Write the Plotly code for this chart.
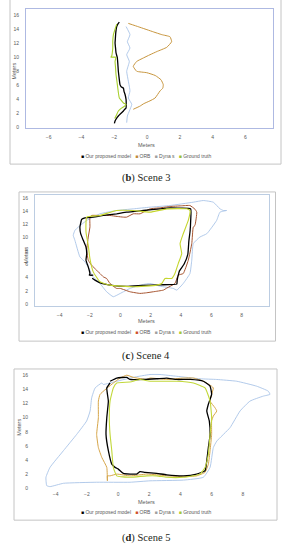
import plotly.graph_objects as go

W, H = 287, 550

# ---------------- data (Scene 3) ----------------
s3_model_x = [-1.69,-1.78,-1.85,-1.91,-1.93,-1.95,-1.92,-1.89,-1.81,-1.78,-1.75,-1.70,-1.65,-1.58,-1.44,-1.40,-1.34,-1.28,-1.27,-1.28,-1.36,-1.44,-1.60,-1.75,-1.88,-1.95,-1.99]
s3_model_y = [14.97,14.7,14.35,13.4,12.7,12.0,11.3,10.6,9.9,9.0,8.0,7.0,6.1,5.8,5.6,5.1,4.7,4.0,3.4,2.8,2.6,2.35,2.0,1.65,1.25,0.95,0.6]
s3_orb_x = [-1.14,-0.5,0.38,0.9,1.4,1.5,1.2,0.6,0.18,-0.3,-0.63,-0.84,-0.63,-0.02,0.5,0.85,0.99,0.96,0.79,0.49,0.18,-0.2,-0.43,-0.84]
s3_orb_y = [14.8,14.3,13.6,13.2,12.9,12.2,11.4,10.8,10.35,9.8,9.4,8.7,8.0,7.8,7.4,6.8,6.1,5.6,5.2,4.2,3.8,3.4,3.05,2.6]
s3_dyna_x = [-1.28,-1.04,-1.20,-1.04,-1.24,-1.08,-1.24,-1.14,-1.04,-1.14,-0.93,-1.08,-1.20,-1.24]
s3_dyna_y = [14.35,13.2,12.2,11.3,10.35,9.4,8.0,6.6,5.2,4.2,3.3,2.35,1.65,0.7]
s3_gt_x = [-1.85,-1.92,-2.05,-2.09,-2.09,-2.12,-2.15,-2.20,-1.90,-1.95,-1.92,-1.89,-1.85,-1.81,-1.75,-1.69,-1.55,-1.44,-1.28,-1.40,-1.54,-1.75,-1.89,-1.97]
s3_gt_y = [14.7,14.2,13.2,12.3,11.3,10.6,10.2,10.0,10.0,9.4,8.5,7.5,6.8,6.1,5.0,4.2,3.8,3.5,3.3,3.0,2.8,2.35,1.65,1.3]

# ---------------- data (Scene 4) ----------------
s4_model_x = [-1.78,-2.04,-2.0,-2.11,-2.26,-2.21,-2.26,-2.44,-2.61,-2.66,-2.6,-2.55,-2.33,-1.78,-1.12,-0.24,0.42,1.52,2.62,3.28,4.0,4.64,4.64,4.60,4.52,4.45,4.2,3.9,3.82,3.75,3.72,2.62,1.52,0.42,-0.68,-1.23,-1.67,-1.85]
s4_model_y = [4.35,4.35,4.6,5.6,6.6,7.6,8.6,9.6,10.6,11.6,12.3,12.75,13.0,13.1,13.35,13.6,13.85,14.1,14.35,14.5,14.45,14.35,12.6,11.0,9.5,7.5,6.0,5.0,4.35,3.6,3.0,2.9,2.8,2.65,2.85,3.1,3.6,3.9]
s4_orb_x = [-2.0,-1.89,-1.34,-0.68,-0.2,0.2,0.42,0.86,1.3,1.96,2.62,3.28,4.0,4.59,4.92,5.04,4.92,4.81,4.71,4.48,4.15,3.82,3.6,3.06,2.84,2.18,1.74,1.3,0.64,0.0,-0.24,-0.68,-0.9,-1.12,-1.34,-1.56,-1.89,-2.11,-2.21,-2.11,-2.0,-2.0]
s4_orb_y = [13.1,13.35,13.35,13.35,13.2,13.1,13.1,13.6,13.6,14.35,14.5,14.7,14.8,14.85,14.3,13.85,11.85,11.6,9.1,6.6,4.6,4.35,3.1,2.4,2.1,1.85,1.7,1.6,1.85,2.35,2.35,3.1,3.85,4.1,4.6,5.1,5.85,6.6,8.1,10.1,11.6,13.1]
s4_dyna_x = [-2.77,-2.99,-3.1,-2.99,-2.66,-2.33,-2.0,-1.89,-1.34,-0.9,-0.46,0.0,0.64,1.3,1.96,2.6,3.49,3.72,4.15,4.59,4.71,4.81,5.25,5.7,6.35,6.57,7.01,6.79,6.57,6.13,5.47,4.81,3.28,1.96,0.86,-0.24,-1.34,-2.21,-2.77]
s4_dyna_y = [11.6,11.1,10.35,9.6,7.1,6.35,5.1,4.35,3.1,1.85,1.1,1.6,2.35,2.85,3.1,2.7,2.35,2.1,3.1,4.6,6.6,9.1,10.1,10.6,12.6,13.85,14.1,14.1,14.35,15.35,15.6,15.35,14.85,14.6,14.35,14.1,13.6,12.6,11.6]
s4_gt_x = [-2.21,-2.26,-2.11,-2.0,-1.78,-1.34,-0.68,0.86,2.4,2.73,2.95,3.39,3.6,3.82,4.05,3.94,4.15,4.48,4.59,4.38,3.06,1.96,0.86,-0.24,-1.34,-2.21]
s4_gt_y = [13.1,10.85,8.85,6.85,4.85,3.35,2.85,2.6,2.85,3.1,3.85,3.85,4.6,6.1,7.6,9.1,10.6,12.6,14.1,14.35,14.35,13.85,14.1,14.1,13.35,13.1]

# ---------------- data (Scene 5) ----------------
s5_model_x = [-0.51,-0.72,-0.62,-0.72,-0.77,-0.62,-0.4,-0.19,0.02,0.34,1.2,1.41,1.73,2.48,3.12,4.19,5.04,5.58,5.69,5.79,5.9,5.85,5.69,5.79,6.0,5.9,5.47,4.62,3.76,3.12,2.48,1.62,0.77,0.56,-0.08,-0.51]
s5_model_y = [14.9,14.2,12.35,10.0,7.65,5.35,3.45,3.0,2.75,2.15,2.05,2.4,2.3,2.15,1.95,1.8,2.05,2.55,3.95,5.8,7.65,9.55,10.95,11.9,13.3,14.45,15.15,15.4,15.4,15.6,15.5,15.4,15.4,15.7,15.6,15.15]
s5_orb_x = [-0.3,-1.15,-1.26,-1.26,-1.37,-1.26,-1.04,-0.72,-0.68,-0.68,-0.51,-0.08,0.77,1.84,2.48,3.12,4.19,5.04,5.58,5.79,5.9,6.0,6.0,6.11,6.33,6.22,5.9,6.0,6.11,6.0,5.47,4.83,4.19,3.12,2.05,1.84,0.98,0.56,0.13,-0.3]
s5_orb_y = [14.9,13.3,12.35,10.0,7.65,5.8,4.4,3.0,1.1,1.8,1.8,2.05,1.8,2.05,1.95,1.8,1.7,1.8,2.3,3.45,5.35,7.65,9.55,10.25,10.95,11.4,12.35,13.3,14.2,14.45,15.15,15.6,15.6,15.4,15.6,15.4,15.7,16.0,15.6,14.9]
s5_dyna_x = [-1.04,-1.47,-1.69,-1.79,-2.01,-2.65,-3.5,-4.36,-4.62,-4.57,-4.36,-3.5,-1.37,0.77,2.05,4.19,5.47,5.9,6.11,6.33,7.18,7.82,8.46,9.31,9.74,9.63,8.89,7.61,6.33,5.26,3.76,2.69,2.05,0.98,-0.08,-0.94,-1.04]
s5_dyna_y = [14.9,14.2,12.8,10.95,9.55,7.65,5.35,3.0,1.6,0.42,0.28,0.75,0.9,0.9,1.1,1.2,1.6,3.0,5.8,6.7,8.6,10.95,12.35,13.05,13.3,13.75,14.45,15.15,15.4,15.5,15.85,16.1,16.1,15.7,15.15,14.7,14.9]
s5_gt_x = [-0.3,-0.51,-0.56,-0.51,-0.4,-0.3,-0.08,0.77,1.84,2.48,3.12,4.19,5.26,5.58,5.79,5.9,6.0,5.9,5.58,4.83,3.76,2.05,1.41,0.77,-0.08,-0.3]
s5_gt_y = [14.2,12.35,10.0,7.65,5.35,3.0,1.8,1.6,1.8,1.8,1.6,1.6,2.05,3.0,4.85,7.65,10.0,12.35,14.2,14.9,15.15,15.15,15.4,15.05,14.9,14.2]

series_names = ["Our proposed model", "ORB", "Dyna s", "Ground truth"]
captions = ["b", "c", "d"]
scene_titles = ["Scene 3", "Scene 4", "Scene 5"]
x_tick_vals = [[-6, -4, -2, 0, 2, 4, 6], [-4, -2, 0, 2, 4, 6, 8], [-4, -2, 0, 2, 4, 6, 8]]
y_tick_vals = [0, 2, 4, 6, 8, 10, 12, 14, 16]

# ---------------- styling / layout ----------------
def px(x):
    return x / W

def py(y):
    return 1 - y / H

panels = [
    dict(data=[(s3_model_x, s3_model_y), (s3_orb_x, s3_orb_y), (s3_dyna_x, s3_dyna_y), (s3_gt_x, s3_gt_y)],
         colors=["#000000", "#C8963E", "#A9C4E8", "#A8CF2E"],
         legcol=["#000000", "#C08A3A", "#A0A0A0", "#9BC03A"],
         plot=(26, 9, 273, 128.3), xr=(-7.38, 7.68), yr=(0, 16.85),
         border=(10, -2, 281, 165), frame="#AEB9E2", xstand=4, ystand=5,
         xlab_y=146, ylab_x=14, ylab_y=72, leg_y=157, cap_y=179),
    dict(data=[(s4_model_x, s4_model_y), (s4_orb_x, s4_orb_y), (s4_dyna_x, s4_dyna_y), (s4_gt_x, s4_gt_y)],
         colors=["#000000", "#A65530", "#A9C4E8", "#C5D62E"],
         legcol=["#000000", "#D0502A", "#A0A0A0", "#A8C838"],
         plot=(35, 195.7, 269.3, 307.3), xr=(-5.62, 9.82), yr=(-0.24, 16.49),
         border=(19, 193, 275.5, 343), frame="#BCCDE2", xstand=4, ystand=5,
         xlab_y=323, ylab_x=26, ylab_y=257, leg_y=334, cap_y=358),
    dict(data=[(s5_model_x, s5_model_y), (s5_orb_x, s5_orb_y), (s5_dyna_x, s5_dyna_y), (s5_gt_x, s5_gt_y)],
         colors=["#000000", "#D6A548", "#A9C4E8", "#C2D83A"],
         legcol=["#000000", "#D0502A", "#A0A0A0", "#A8C838"],
         plot=(33, 372, 272, 491.3), xr=(-5.45, 9.87), yr=(0, 16.74),
         border=(14, 371, 277, 523), frame=None, xstand=1, ystand=4,
         xlab_y=504.5, ylab_x=19, ylab_y=430, leg_y=515, cap_y=541),
]

fig = go.Figure()
layout = dict(width=W, height=H, margin=dict(l=0, r=0, t=0, b=0),
              paper_bgcolor="white", plot_bgcolor="white", showlegend=False)
shapes, annotations = [], []
tick_font = dict(family="Liberation Sans, Arial", size=5, color="#595959")
widths = [1.3, 1.0, 0.9, 1.1]
draw_order = [2, 1, 0, 3]
anc = dict(xanchor="center", yanchor="middle", showarrow=False, xref="paper", yref="paper")

for i, p in enumerate(panels):
    sfx = "" if i == 0 else str(i + 1)
    xa, ya = "x" + sfx, "y" + sfx
    for k in draw_order:
        xs, ys = p["data"][k]
        fig.add_trace(go.Scatter(x=xs, y=ys, mode="lines", name=series_names[k],
                                 xaxis=xa, yaxis=ya,
                                 line=dict(color=p["colors"][k], width=widths[k], shape="spline", smoothing=0.4)))
    x0, y0, x1, y1 = p["plot"]
    line_kw = dict(showline=True, mirror=True, linecolor=p["frame"], linewidth=1) if p["frame"] else dict(showline=False)
    layout["xaxis" + sfx] = dict(domain=[px(x0), px(x1)], range=list(p["xr"]), anchor=ya,
                                 tickvals=x_tick_vals[i], showgrid=False, zeroline=False,
                                 ticks="", tickfont=tick_font, ticklabelstandoff=p["xstand"], **line_kw)
    layout["yaxis" + sfx] = dict(domain=[py(y1), py(y0)], range=list(p["yr"]), anchor=xa,
                                 tickvals=y_tick_vals, showgrid=False, zeroline=False,
                                 ticks="", tickfont=tick_font, ticklabelstandoff=p["ystand"], **line_kw)
    bx0, by0, bx1, by1 = p["border"]
    shapes.append(dict(type="rect", xref="paper", yref="paper", x0=px(bx0), x1=px(bx1), y0=py(by1), y1=py(by0),
                       line=dict(color="#C4C4C4", width=1), fillcolor="rgba(0,0,0,0)", layer="below"))
    annotations.append(dict(text="Meters", x=px(146), y=py(p["xlab_y"]),
                            font=dict(family="Liberation Sans, Arial", size=5.5, color="#595959"), **anc))
    annotations.append(dict(text="Meters", x=px(p["ylab_x"]), y=py(p["ylab_y"]), textangle=-90,
                            font=dict(family="Liberation Sans, Arial", size=5.5, color="#595959"), **anc))
    nb = "\u00a0"
    leg = (nb * 3).join(f"<span style='color:{c}'>■</span>{nb}{n}" for c, n in zip(p["legcol"], series_names))
    annotations.append(dict(text=leg, x=px(146), y=py(p["leg_y"]),
                            font=dict(family="Liberation Sans, Arial", size=5, color="#595959"), **anc))
    annotations.append(dict(text=f"(<b>{captions[i]}</b>) {scene_titles[i]}", x=px(146), y=py(p["cap_y"]),
                            font=dict(family="Liberation Serif, Times New Roman, serif", size=10.5, color="#231F20"),
                            **anc))

layout["shapes"] = shapes
layout["annotations"] = annotations
fig.update_layout(**layout)
fig.write_html("out.html", config={"displayModeBar": False},
               post_script="document.body.style.margin='0px';document.body.style.overflow='hidden';")
